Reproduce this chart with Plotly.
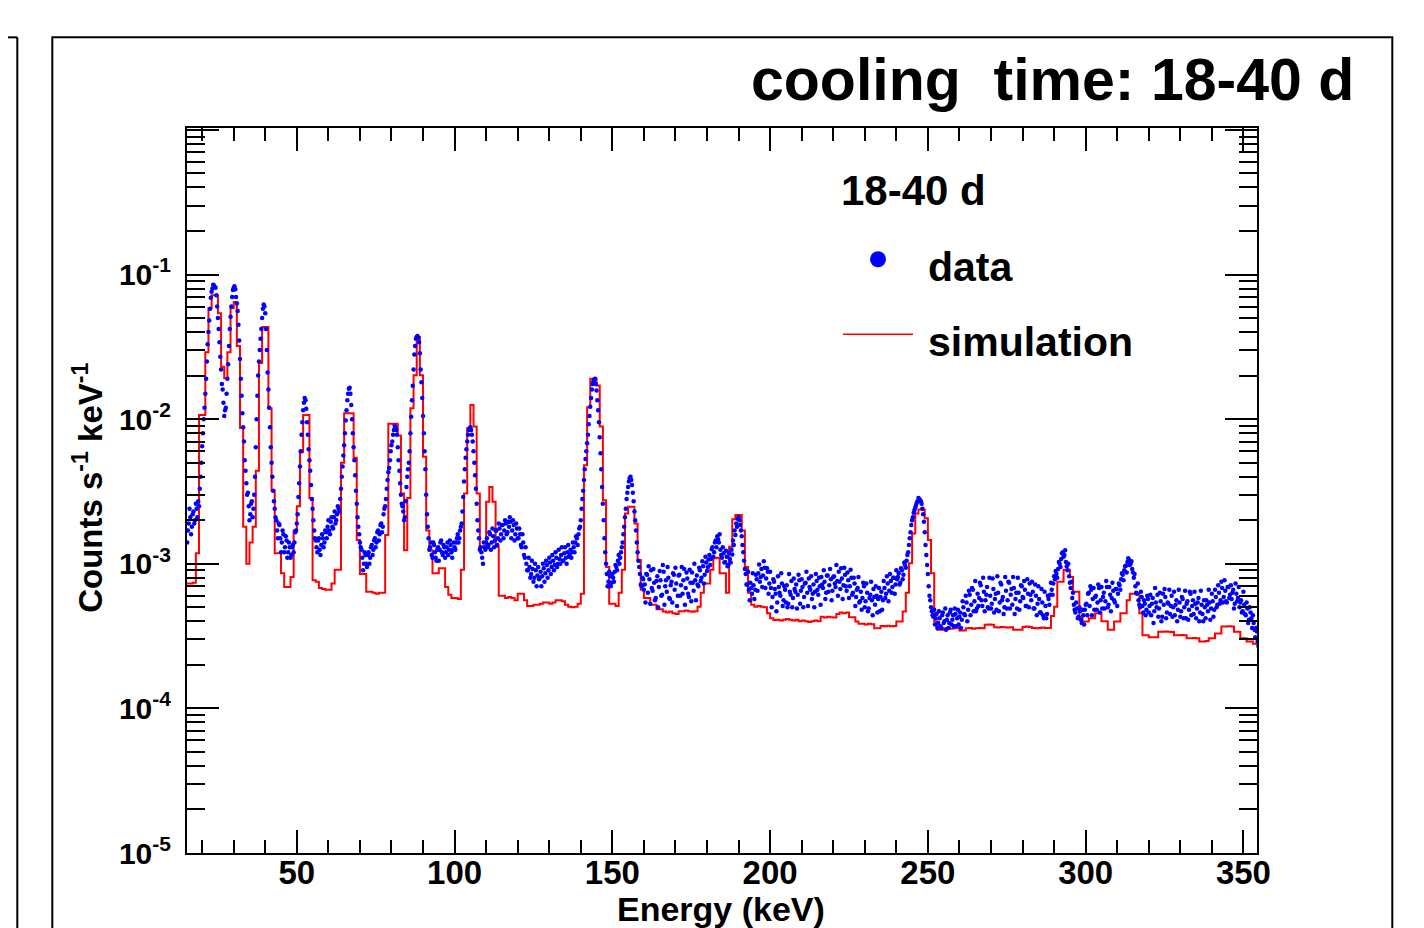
import numpy as np
import plotly.graph_objects as go

# rates are given in units of 1e-4 counts s^-1 keV^-1
UNIT = 1e-4

# simulation: 1 keV bins, first low edge at 15 keV
sim_first_edge = 15
sim_rate = [
    7.3, 7.3, 7.4, 11.8, 107, 107, 290, 585, 720, 720,        # 15-24
    540, 230, 192, 290, 585, 645, 320, 87, 18, 10,            # 25-34
    14, 18, 44, 244, 433, 433, 119, 32, 11.8, 11.8,           # 35-44
    8.6, 6.9, 6.9, 8.1, 17, 25, 59, 107, 107, 28.5,           # 45-54
    7.7, 7.5, 6.8, 6.7, 6.6, 6.6, 7.3, 9.1, 9.1, 50,          # 55-64
    110, 110, 110, 54, 14.6, 8.5, 8.5, 6.4, 6.4, 6.3,         # 65-74
    6.2, 6.3, 6.3, 15.8, 93, 93, 93, 77, 30.6, 12.4,          # 75-84
    28.5, 119, 201, 370, 201, 55, 17, 12.4, 8.6, 8.6,         # 85-94
    9.3, 9.3, 6.9, 6.1, 5.8, 5.8, 5.7, 9.1, 30.6, 87,         # 95-104
    125, 89, 30.6, 13.1, 13.1, 26.8, 34, 26.8, 13.1, 6.0,     # 105-114
    6.0, 5.8, 5.9, 5.8, 5.6, 6.2, 6.2, 5.6, 5.1, 5.1,         # 115-124
    5.2, 5.2, 5.3, 5.4, 5.4, 5.3, 5.4, 5.6, 5.6, 5.5,         # 125-134
    5.2, 5.05, 5.0, 5.05, 5.3, 6.2, 48, 121, 190, 190,        # 135-144
    171, 89, 27.5, 9.5, 5.3, 5.3, 5.1, 6.3, 9.1, 22.3,        # 145-154
    24.8, 24.8, 19, 10.6, 6.6, 5.8, 5.8, 5.2, 5.2, 4.85,      # 155-164
    4.85, 4.67, 4.6, 4.67, 4.55, 4.5, 4.7, 4.7, 4.75, 4.7,    # 165-174
    4.65, 4.7, 5.05, 6.3, 7.3, 7.3, 9.1, 10.9, 11.0, 8.6,     # 175-184
    8.6, 6.3, 13.1, 20.3, 21.7, 21.7, 17, 9.5, 6.3, 5.2,      # 185-194
    5.05, 5.1, 5.05, 5.0, 4.55, 4.2, 4.08, 4.1, 4.05, 4.1,    # 195-204
    4.15, 4.1, 4.05, 4.1, 4.0, 4.05, 4.0, 3.95, 4.0, 4.05,    # 205-214
    4.0, 4.3, 4.25, 4.3, 4.27, 4.25, 4.5, 4.6, 4.55, 4.6,     # 215-224
    4.27, 4.27, 3.98, 3.84, 3.85, 3.8, 3.84, 3.82, 3.58, 3.58,  # 225-234
    3.71, 3.7, 3.72, 3.7, 3.71, 3.98, 3.98, 4.67, 6.3, 10.1,  # 235-244
    16.2, 22.3, 23.7, 23.7, 20.6, 14.6, 8.6, 3.98, 3.49, 3.49,  # 245-254
    3.58, 3.6, 3.55, 3.58, 3.6, 3.45, 3.45, 3.58, 3.6, 3.55,  # 255-264
    3.58, 3.6, 3.58, 3.78, 3.8, 3.78, 3.64, 3.62, 3.66, 3.64,  # 265-274
    3.62, 3.64, 3.49, 3.5, 3.49, 3.66, 3.68, 3.66, 3.6, 3.58,  # 275-284
    3.6, 3.62, 3.6, 3.6, 4.36, 5.05, 7.5, 7.5, 9.1, 9.1,      # 285-294
    8.1, 6.4, 6.4, 4.27, 3.98, 3.98, 4.2, 4.2, 4.55, 4.55,    # 295-304
    4.0, 4.0, 3.49, 3.49, 3.98, 3.98, 4.55, 4.55, 5.6, 6.2,   # 305-314
    6.2, 6.2, 4.55, 3.2, 3.2, 3.1, 3.1, 3.1, 3.39, 3.39,      # 315-324
    3.4, 3.39, 3.38, 3.2, 3.2, 3.22, 3.2, 3.05, 3.05, 3.07,   # 325-334
    3.05, 2.9, 2.9, 2.92, 3.05, 3.05, 3.3, 3.3, 3.68, 3.68,   # 335-344
    3.7, 3.68, 3.39, 3.39, 3.05, 3.05, 2.9, 2.9, 2.8, 2.8,    # 345-354
]

# measured data, points every 0.25 keV, kept as two interleaved lists:
# data_rate_a at 15.25, 15.75, ... and data_rate_b at 15.5, 16.0, ...
data_a_first_e = 15.25
data_b_first_e = 15.5
data_step = 0.5
data_rate_a = [
    14, 19, 21, 18, 23, 20, 24, 27, 33, 50,
    80, 120, 190, 330, 480, 690, 800, 840, 810, 600, 420, 270, 175, 130, 115, 150, 240, 420, 600, 780,
    830, 700, 560, 350, 190, 110, 70, 44, 30, 25, 22, 27, 24, 40, 100, 200, 300, 420, 580, 600,
    420, 210, 120, 64, 40, 27, 21, 17, 19, 15, 14, 16, 13, 14.5, 12, 13, 11.5, 13.5, 14, 17,
    22, 36, 60, 95, 130, 135, 95, 62, 44, 28, 20, 15, 13, 14.5, 12.5, 13.5, 15, 14, 16.5, 18,
    17, 19.5, 18, 21, 19, 22, 24, 28, 40, 56, 80, 115, 150, 165, 125, 80, 52, 32, 21, 16,
    13, 11, 10, 11.5, 9.5, 12, 11, 13.5, 12.5, 15, 14, 17, 16, 19, 18, 24, 28, 38, 46, 60,
    70, 84, 88, 78, 52, 36, 26, 23, 21, 34, 45, 60, 104, 170, 280, 360, 375, 340, 220, 140,
    80, 45, 22, 15, 13, 11.5, 14, 12, 10.5, 13, 12.5, 14.5, 11.5, 13, 12, 14, 12.5, 13.5, 11, 14,
    12.5, 15, 14, 17, 19, 29, 45, 62, 78, 86, 84, 70, 50, 33, 20, 15, 13, 11, 14, 12.5,
    15, 13.5, 16, 14, 15.5, 14.5, 17, 15, 17.5, 16, 18.5, 17, 19, 16.5, 18, 19.5, 17, 18.5, 16, 17.5,
    15, 16, 13, 14, 11, 10, 9, 9.5, 8.5, 9.2, 8, 9, 8.3, 7.8, 8.8, 8.2, 9.3, 8.6, 9.8, 9,
    10.2, 9.5, 10.5, 9.8, 11, 10, 10.8, 11.5, 10.5, 11.8, 11, 12, 11.2, 12.5, 12, 13, 14, 15, 16, 18,
    24, 32, 45, 60, 78, 105, 140, 175, 188, 175, 135, 95, 58, 34, 20, 12, 8.5, 7.5, 8.2, 7.4,
    8, 8.8, 9.5, 10.5, 10, 12, 14, 18, 24, 31, 37, 40, 35, 27, 20, 14, 10.5, 8.5, 7, 7.8,
    7.2, 8.5, 6.3, 7.8, 9, 6.5, 7.4, 5.8, 8.2, 6.9, 7.7, 6.1, 8.8, 7, 6.4, 8, 5.7, 7.5, 8.6, 6.6,
    7.3, 6, 8.4, 7.1, 6.2, 9.2, 6.8, 7.9, 5.9, 7.4, 8.7, 6.5, 7.7, 8.3, 7, 9, 8, 9.6, 8.4, 10.2,
    9.5, 11.5, 10.8, 13, 12, 14.5, 15.5, 14, 12.5, 11, 11.8, 10.3, 11.2, 9.8, 10.8, 12.5, 14.5, 17, 19, 20.5,
    20, 17, 13.5, 10.5, 8.5, 7.2, 6.6, 7.4, 6.2, 7.1, 6.6, 7.8, 8.6, 7.5, 9.2, 8.3, 9.4, 7.9, 8.8, 7.3,
    6.8, 5.9, 7.5, 6.2, 5.4, 6.9, 6, 7.3, 5.6, 6.6, 7.1, 5.3, 6.4, 7.6, 5.8, 6.7, 7.2, 6.1, 7.7, 6.5,
    6.9, 5.9, 7.4, 6.3, 7.9, 6.6, 5.7, 7.2, 6.4, 7.6, 6.1, 7, 8.1, 6.8, 7.5, 6.3, 8.3, 7.1, 7.8, 6.5,
    8.2, 6.9, 7.6, 8.8, 6.7, 7.9, 7.1, 8.4, 6.5, 7.7, 7, 8, 6.3, 7.3, 5.9, 6.8, 5.4, 6.4, 5.8, 7,
    5.5, 6.3, 4.9, 6.1, 5.6, 6.7, 5.2, 6, 5.7, 4.7, 6.4, 5.6, 6.8, 6.2, 7.3, 6.5, 7.6, 6.9, 8, 7.2,
    7.8, 8.6, 7.4, 9, 8.4, 9.8, 10.5, 12, 15, 18.5, 21, 23.5, 25.5, 27, 28, 27, 24, 19.5, 13.5, 9.8,
    7, 5.6, 4.7, 4.3, 3.8, 4.5, 3.9, 4.2, 3.6, 4.6, 4, 3.5, 4.4, 3.9, 4.8, 4.1, 3.7, 4.5, 4.2, 3.8,
    4.6, 4.1, 5, 4.4, 5.4, 4.8, 6.1, 5.2, 6.6, 5.5, 4.7, 6.2, 5.8, 7.1, 5.1, 6.4, 5.6, 6.9, 4.9, 6,
    5.3, 6.7, 5.7, 4.8, 6.3, 5.4, 7.2, 5.9, 5, 6.5, 5.6, 7.4, 6.1, 5.2, 6.8, 5.7, 4.9, 6.3, 5.5, 7,
    5.8, 6.6, 5.1, 6.2, 7.3, 5.6, 6.4, 4.9, 6, 5.3, 5.7, 4.6, 5.4, 4.2, 5.1, 4.5, 5.7, 6.1, 6.6, 7.3,
    7.8, 8.5, 9.2, 10, 10.8, 12, 11.5, 10.3, 9, 8.2, 6.8, 5.8, 5.2, 4.6, 4.9, 4.3, 4.7, 3.9, 4.4, 4.8,
    5.3, 6.2, 5.1, 6.6, 5.7, 4.8, 6, 5.4, 6.8, 5.6, 4.9, 6.3, 5.5, 6.9, 5.2, 6.1, 5.8, 6.5, 5.4, 6.7,
    6.2, 7.1, 7.8, 8.4, 9, 9.7, 10.3, 10.6, 10, 9.2, 8, 7, 6.2, 5.6, 5, 5.9, 4.6, 5.3, 4.8, 5.7,
    5.1, 4.4, 5.8, 4.7, 5.4, 6.1, 4.9, 5.5, 4.3, 5.2, 5.9, 4.6, 5.3, 4.5, 6, 5, 4.4, 5.6, 4.8, 5.4,
    4.7, 5.7, 5, 4.2, 5.5, 4.8, 6.2, 5.1, 4.5, 5.3, 4.9, 5.8, 4.6, 5.2, 4, 5, 5.6, 4.7, 5.4, 4.9,
    5.5, 4.8, 5.9, 5.2, 6.3, 5.6, 6.8, 5.9, 6.5, 5.4, 6.9, 6.1, 5.7, 6.6, 5.3, 6.2, 5.8, 5, 5.6, 4.7,
    5.2, 4.4, 4.9, 4.1, 4.6, 3.6, 3.9, 3.1, 3.4, 2.7,
]
data_rate_b = [
    17, 24, 16, 22, 19, 26, 21, 25, 40, 65,
    100, 150, 250, 400, 580, 760, 850, 820, 720, 500, 340, 220, 160, 105, 120, 190, 320, 510, 700, 810,
    790, 630, 450, 260, 145, 88, 52, 36, 31, 20, 26, 21, 30, 64, 145, 250, 360, 500, 620, 540,
    300, 160, 88, 50, 32, 24, 20, 15, 18.5, 12, 17, 12, 15.5, 11, 14, 11, 13, 12, 16.5, 19,
    29, 47, 78, 115, 140, 118, 78, 52, 35, 24, 17, 14.5, 12, 15, 11.5, 16, 13, 17, 15, 20,
    16, 21, 17.5, 23, 20, 25, 23, 33, 47, 66, 98, 135, 162, 150, 100, 64, 41, 26, 18, 14,
    12.5, 9, 12, 10, 11.5, 10, 13, 11.5, 14.5, 13, 16.5, 14.5, 18.5, 16.5, 22, 25, 33, 43, 52, 66,
    78, 90, 84, 64, 44, 30, 25, 20, 27, 40, 50, 80, 135, 220, 320, 370, 365, 285, 180, 105,
    60, 30, 18, 12.5, 14, 11, 13.5, 11, 12.5, 10.5, 14, 12, 13.5, 11, 13, 11.5, 14.5, 12, 12.5, 13,
    14, 16, 15, 18, 23, 37, 54, 70, 84, 88, 78, 60, 41, 26, 17, 12.5, 12, 10, 13, 14,
    13, 16.5, 12.5, 17.5, 13, 17, 13.5, 19, 14.5, 18.5, 15, 20, 16, 19.5, 21, 15, 20, 14.5, 19, 15,
    17.5, 13.5, 16, 11.5, 13, 9, 11, 8, 10.5, 7.5, 10, 7, 9.5, 8, 7, 10, 7.5, 10.5, 8, 11,
    8.5, 11.5, 9, 12, 9.5, 12.5, 10, 13, 10.5, 13, 10, 13.5, 11.5, 11, 14, 12, 15.5, 13.5, 17.5, 20,
    28, 38, 53, 68, 92, 122, 160, 182, 190, 158, 115, 75, 45, 26, 15, 10, 7, 8.8, 7, 8.5,
    7.5, 9.8, 9, 11.5, 11, 13, 16, 21, 28, 34, 39, 38, 31, 23, 17, 12, 9.5, 7.2, 8, 6.6,
    5.4, 8.4, 9.6, 5.3, 6.8, 9.2, 5.6, 7.6, 5, 8.9, 6, 9.8, 5.2, 7.7, 9.5, 5.8, 7.1, 5.4, 8.4, 9.4,
    5.1, 8.3, 6, 9.5, 7.7, 5.2, 8.7, 6.2, 9.1, 5.5, 7.4, 10, 5.6, 7.2, 9.4, 7.6, 10.4, 7.3, 11.2, 8.9,
    10.7, 9.8, 12.6, 11.2, 14, 13, 14.8, 16, 11.5, 13, 10.2, 12.3, 9.6, 11.8, 10.2, 11.6, 13.5, 15.8, 18, 21,
    18.5, 15.5, 12, 9.2, 7.2, 8.8, 5.6, 6.8, 8.6, 5.7, 8.4, 6.5, 9.9, 8.1, 6.9, 10.4, 6.8, 9.3, 6.2, 8.8,
    5, 7.8, 6.7, 4.7, 8.2, 6.3, 8.6, 5.1, 7, 5.4, 5, 8.5, 6.1, 5, 7.9, 6.4, 4.9, 8.4, 5.3, 7.8,
    5, 7.3, 8.8, 5.1, 6.9, 8.2, 6.2, 5, 8.5, 6.6, 8, 5.2, 7.2, 9, 5.7, 8.3, 6.4, 9.2, 5.6, 8.1,
    7.3, 9.8, 6, 7.5, 9.3, 5.7, 9.4, 7, 8.7, 5.8, 9.1, 6.1, 8, 5.1, 6.6, 8.1, 5.5, 4.8, 7.4, 5,
    7.3, 4.7, 5.8, 7.5, 4.4, 5.9, 7, 4.6, 6.8, 5.9, 4.8, 7.6, 5.8, 8.2, 5.5, 8.5, 6.3, 8, 6.2, 9,
    8.1, 7.2, 9.3, 7.8, 10.2, 9.4, 11.5, 13.5, 16.5, 20, 22.5, 24.5, 26.5, 28.5, 27.5, 26, 22, 16.5, 11.5, 8.5,
    6, 5, 4.4, 4.8, 4.2, 3.6, 4.7, 3.7, 4.4, 3.9, 4.9, 4.1, 3.6, 4.6, 3.8, 4.4, 4.9, 3.7, 4.8, 4.3,
    3.6, 5.5, 4.5, 6, 4, 6.5, 4.4, 6.8, 4.7, 7.6, 4.9, 5.1, 7.4, 5.6, 8, 4.7, 6.1, 5, 8, 4.9,
    7.9, 4.6, 6.2, 8.2, 4.7, 7.4, 5.6, 4.5, 8.1, 4.9, 7.5, 4.9, 6.7, 8.1, 4.5, 6.3, 8, 4.8, 7.1, 5.9,
    7.6, 5.1, 7.8, 5, 6.1, 7.5, 4.9, 7.2, 4.4, 7, 4.6, 6.7, 4.4, 6.4, 4.2, 6, 5.2, 7.4, 6.1, 8.2,
    8.9, 8, 10.3, 9.5, 11.8, 11.2, 12.4, 9.6, 10, 7.4, 7.5, 6.3, 4.8, 5.4, 4.2, 5, 4.1, 4.8, 3.8, 5.2,
    4.4, 6.3, 7, 4.4, 6.8, 5.9, 4.8, 7.2, 4.6, 6.9, 5.9, 4.9, 7.6, 5, 6.9, 4.7, 7.4, 5.6, 6.7, 5.1,
    7.3, 6.6, 8.6, 7.7, 9.6, 8.7, 10.9, 9.8, 10.4, 8.7, 8.5, 6.3, 7.3, 5.2, 6.4, 5.1, 5.6, 4.4, 6, 4.6,
    6.1, 5.3, 3.9, 6.8, 5.0, 4.3, 6.3, 4, 6.2, 6.7, 4.2, 5.4, 6.6, 5.1, 4.3, 6.4, 5.2, 4, 6.6, 4.3,
    5.9, 4.2, 6.5, 5.3, 4.1, 6.4, 4.4, 5.6, 6.4, 4.2, 5.4, 4, 6.5, 4.5, 5.6, 4.2, 5.2, 6.6, 4.1, 6.2,
    4.3, 6.6, 5, 7.1, 5.3, 7.5, 5.4, 7.7, 5.5, 6.9, 5.8, 7.1, 6.3, 4.9, 7.3, 5.5, 6.9, 5.4, 4.6, 6.4,
    4.5, 5.4, 3.9, 5, 4.2, 4.4, 3.5, 3.6, 2.9, 3.2,
]
assert len(sim_rate) == 340, len(sim_rate)
assert len(data_rate_a) == 680, len(data_rate_a)
assert len(data_rate_b) == 680, len(data_rate_b)

x_tickvals = [50, 100, 150, 200, 250, 300, 350]
y_tickvals = [1e-5, 1e-4, 1e-3, 1e-2, 1e-1, 1]
y_ticktext = ["10<sup>-5</sup>", "10<sup>-4</sup>", "10<sup>-3</sup>",
              "10<sup>-2</sup>", "10<sup>-1</sup>", ""]
y_minor = [m * 10.0 ** k for k in range(-5, 0) for m in range(2, 10)]

FONT = "Liberation Sans"

# histogram outline: one point per low edge plus the closing edge
sim_x = sim_first_edge + np.arange(len(sim_rate) + 1)
sim_y = np.array(sim_rate + [sim_rate[-1]]) * UNIT

data_x = np.concatenate([data_a_first_e + data_step * np.arange(len(data_rate_a)),
                         data_b_first_e + data_step * np.arange(len(data_rate_b))])
data_y = np.array(data_rate_a + data_rate_b) * UNIT

fig = go.Figure()
fig.add_trace(go.Scatter(x=sim_x, y=sim_y, mode="lines", name="simulation",
                         line=dict(color="#ff0000", width=2, shape="hv")))
fig.add_trace(go.Scatter(x=data_x, y=data_y, mode="markers", name="data",
                         marker=dict(color="#0000ff", size=4.5, symbol="circle", line=dict(width=0))))


# the page body adds 8 px, so the plot area lands at x 187..1257, y 128..853
def px_x(p):  # screen column -> paper x
    return (p - 187) / 1070.0


def px_y(p):  # screen row -> paper y
    return (853.3 - p) / 725.3


bold = dict(family=FONT, color="black", weight="bold")

fig.update_xaxes(
    range=[15.2, 354.3], showgrid=False, zeroline=False,
    showline=True, linecolor="black", linewidth=2, mirror="allticks",
    ticks="inside", ticklen=23, tickwidth=2, tickcolor="black",
    tickmode="array", tickvals=x_tickvals,
    tickfont=dict(size=33, **bold), ticklabelstandoff=-11,
    minor=dict(ticks="inside", ticklen=13, tickwidth=2, tickcolor="black",
               tick0=0, dtick=10, showgrid=False),
)
fig.update_yaxes(
    type="log", range=[-5, 0.013], showgrid=False, zeroline=False,
    showline=True, linecolor="black", linewidth=2, mirror="allticks",
    ticks="inside", ticklen=32, tickwidth=2, tickcolor="black",
    tickmode="array", tickvals=y_tickvals, ticktext=y_ticktext,
    tickfont=dict(size=30, **bold), ticklabelstandoff=8,
    minor=dict(ticks="inside", ticklen=18, tickwidth=2, tickcolor="black",
               tickmode="array", tickvals=y_minor, showgrid=False),
)

annotations = [
    dict(text="cooling\u00a0 time: 18-40 d", x=px_x(1356), y=px_y(80),
         xanchor="right", yanchor="middle", font=dict(size=59, **bold)),
    dict(text="18-40 d", x=px_x(839), y=px_y(191),
         xanchor="left", yanchor="middle", font=dict(size=42, **bold)),
    dict(text="data", x=px_x(926), y=px_y(267),
         xanchor="left", yanchor="middle", font=dict(size=41, **bold)),
    dict(text="simulation", x=px_x(926), y=px_y(342),
         xanchor="left", yanchor="middle", font=dict(size=41, **bold)),
    dict(text="Energy (keV)", x=px_x(721), y=px_y(909),
         xanchor="center", yanchor="middle", font=dict(size=34, **bold)),
    dict(text="Counts s<sup>-1</sup> keV<sup>-1</sup>", x=px_x(88), y=px_y(488),
         xanchor="center", yanchor="middle", textangle=-90, font=dict(size=33, **bold)),
]
for a in annotations:
    a.update(xref="paper", yref="paper", showarrow=False)

shapes = [
    # pad frame and the edge of the neighbouring pad
    dict(type="rect", x0=px_x(52.3), x1=px_x(1392.3), y0=px_y(960), y1=px_y(37.3),
         line=dict(color="black", width=2)),
    dict(type="line", x0=px_x(-10), x1=px_x(17.3), y0=px_y(37.3), y1=px_y(37.3),
         line=dict(color="black", width=2)),
    dict(type="line", x0=px_x(17.3), x1=px_x(17.3), y0=px_y(37.3), y1=px_y(960),
         line=dict(color="black", width=2)),
    # legend glyphs
    dict(type="circle", x0=px_x(870), x1=px_x(886), y0=px_y(267.3), y1=px_y(251.3),
         fillcolor="#0000ff", line=dict(width=0)),
    dict(type="line", x0=px_x(843), x1=px_x(913), y0=px_y(334.3), y1=px_y(334.3),
         line=dict(color="#ff0000", width=1.5)),
]
for s in shapes:
    s.update(xref="paper", yref="paper")

fig.update_layout(
    width=1424, height=928,
    margin=dict(l=179, r=175, t=120, b=83, pad=0),
    paper_bgcolor="white", plot_bgcolor="white",
    showlegend=False,
    annotations=annotations, shapes=shapes,
    font=dict(family=FONT, color="black"),
)

fig.write_html("out.html")
